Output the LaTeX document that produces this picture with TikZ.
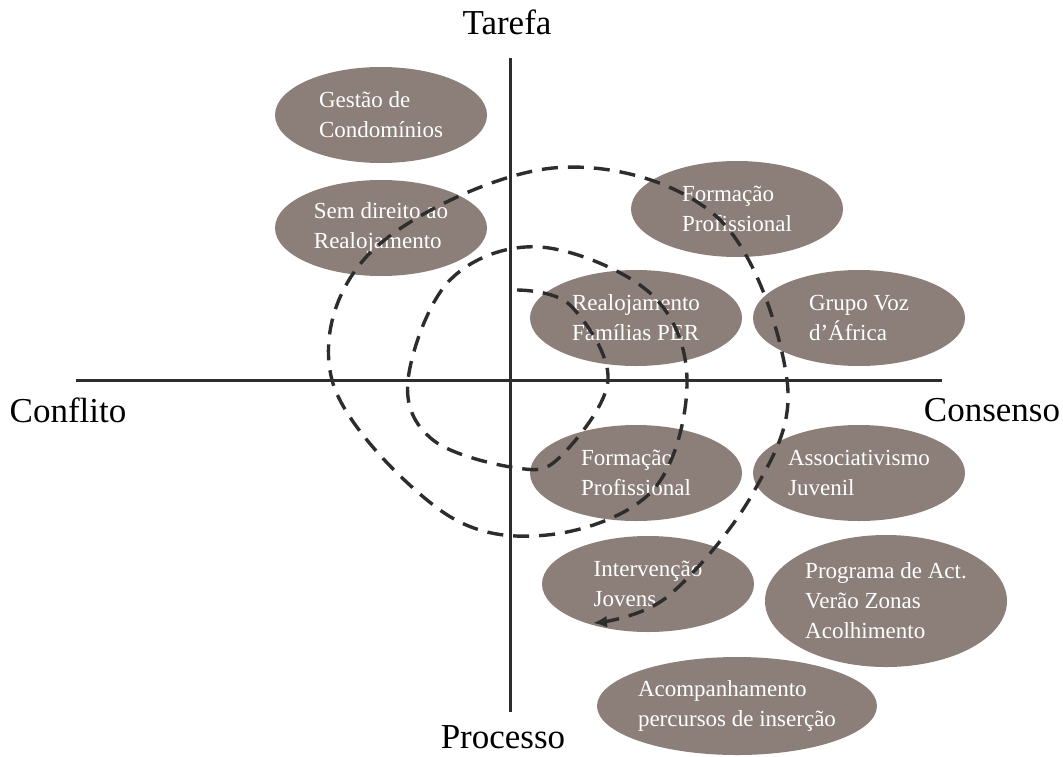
\documentclass[tikz,border=0pt]{standalone}
\usepackage{fontspec}
\setmainfont{Liberation Serif}
\usetikzlibrary{arrows.meta,shapes.geometric}

\definecolor{blobfill}{RGB}{140,127,122}
\definecolor{inkdark}{RGB}{45,45,45}

\begin{document}
\begin{tikzpicture}[x=50pt, y=50pt, line cap=butt, line join=round,
  blob/.style={ellipse, fill=blobfill, text=white, inner sep=0pt,
    minimum width=106pt, minimum height=48pt, align=left,
    font=\fontsize{11.5}{15}\selectfont},
  axislabel/.style={font=\fontsize{17.5}{20}\selectfont, inner sep=0pt},
  axisline/.style={line width=1.5pt, draw=inkdark}]

\useasboundingbox (-5.10,-3.76) rectangle (5.53,3.80);

% axes
\coordinate (west) at (-4.34,0);
\coordinate (east) at (4.32,0);
\coordinate (north) at (0,3.22);
\coordinate (south) at (0,-3.32);
\draw[axisline] (west) -- (east);
\draw[axisline] (north) -- (south);

\node[axislabel] (tarefa) at (-0.03,3.58) {Tarefa};
\node[axislabel] (processo) at (-0.07,-3.57) {Processo};
\node[axislabel] (conflito) at (-4.42,-0.30) {Conflito};
\node[axislabel] (consenso) at (4.82,-0.30) {Consenso};

% projects
\node[blob] (gestao) at (-1.29,2.65) {Gestão de\\Condomínios};
\node[blob] (semdireito) at (-1.29,1.52) {Sem direito ao\\Realojamento};
\node[blob] (formtop) at (2.27,1.71) {Formação\\Profissional};
\node[blob] (realoj) at (1.26,0.62) {Realojamento\\Famílias PER};
\node[blob] (grupovoz) at (3.49,0.62) {Grupo Voz\\d’África};
\node[blob] (formbot) at (1.26,-0.93) {Formação\\Profissional};
\node[blob] (assoc) at (3.49,-0.93) {Associativismo\\Juvenil};
\node[blob] (interv) at (1.38,-2.04) {Intervenção\\Jovens};
\node[blob, minimum width=121pt, minimum height=66pt] (programa) at (3.76,-2.21)
  {Programa de Act.\\Verão Zonas\\Acolhimento};
\node[blob, minimum width=138pt, minimum height=49pt] (acomp) at (2.27,-3.26)
  {Acompanhamento\\percursos de inserção};

% spiral
\draw[draw=inkdark, line width=1.7pt, dash pattern=on 8pt off 5pt,
  -{Latex[length=7pt,width=6pt]}]
  plot[smooth, tension=0.6] coordinates {
    (0.07,0.90) (0.60,0.75) (0.98,0) (0.50,-0.77) (0.07,-0.88)
    (-0.77,-0.60) (-1.02,0) (-0.60,1.00) (0.30,1.33) (1.40,0.87)
    (1.77,0) (1.43,-1.10) (0.37,-1.55) (-0.70,-1.30) (-1.78,0)
    (-1.37,1.30) (0.43,2.12) (2.07,1.63) (2.77,0) (2.43,-1.13)
    (1.57,-2.17) (0.83,-2.43)};

\end{tikzpicture}
\end{document}
